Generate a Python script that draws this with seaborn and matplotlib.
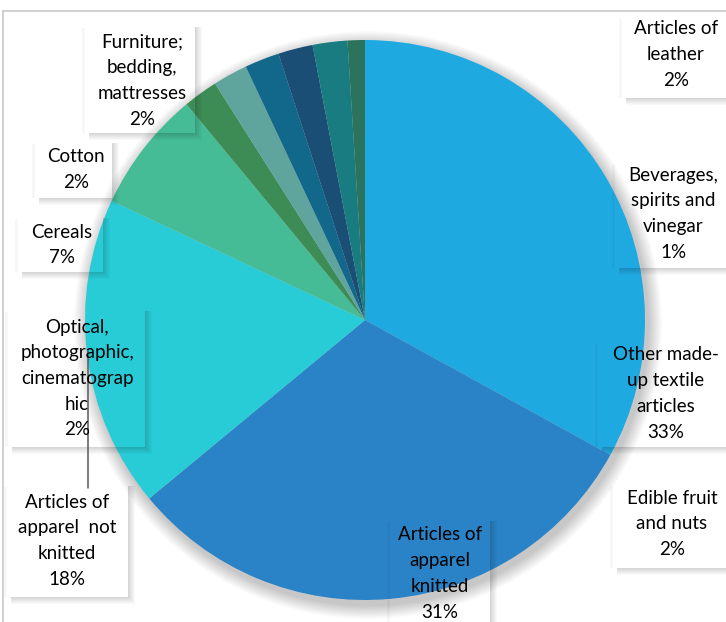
import matplotlib
matplotlib.use("Agg")
import matplotlib.pyplot as plt
import seaborn as sns
from matplotlib.patches import Rectangle, Circle

sns.set_theme(style="white")
plt.rcParams['font.family'] = ['Lato', 'DejaVu Sans']

categories = ["Other made-up textile articles", "Articles of apparel knitted",
              "Articles of apparel  not knitted", "Cereals", "Cotton",
              "Furniture; bedding, mattresses", "Optical, photographic, cinematographic",
              "Edible fruit and nuts", "Articles of leather", "Beverages, spirits and vinegar"]
values = [33, 31, 18, 7, 2, 2, 2, 2, 2, 1]
label_lines = ["Other made-\nup textile\narticles", "Articles of\napparel\nknitted",
               "Articles of\napparel  not\nknitted", "Cereals", "Cotton",
               "Furniture;\nbedding,\nmattresses", "Optical,\nphotographic,\ncinematograp\nhic",
               "Edible fruit\nand nuts", "Articles of\nleather", "Beverages,\nspirits and\nvinegar"]
colors = ["#1FA9E1", "#2A83C6", "#28CCD7", "#45BC95", "#3D8C56",
          "#5FA59E", "#12688B", "#1A4E75", "#187C80", "#2B735C"]

W, H = 726, 622
fig = plt.figure(figsize=(W / 100, H / 100), dpi=100)
ax = fig.add_axes([0, 0, 1, 1])
ax.set_xlim(0, W)
ax.set_ylim(0, H)
ax.set_aspect("equal")
ax.axis("off")

cx, cy, R = 365, H - 320, 280

# soft shadow around the pie
for k in range(14):
    ax.add_patch(Circle((cx + 3, cy - 5), R + 14 - k, color="#000000", alpha=0.014, lw=0, zorder=1))

ax.pie(values, colors=colors, startangle=90, counterclock=False, center=(cx, cy),
       radius=R, wedgeprops=dict(linewidth=0, zorder=2), frame=False)
ax.set_xlim(0, W)
ax.set_ylim(0, H)
ax.axis("off")

# frame lines of the chart area
ax.plot([3, W], [H - 11, H - 11], color="#c8c8c8", lw=1.2, zorder=5)
ax.plot([3, 3], [H - 11, 0], color="#c8c8c8", lw=1.2, zorder=5)

# label boxes: (left, top, right, bottom) in pixels, text centre x, first line y
boxes = {
    "Other made-up textile articles": (598, 340, 726, 447, 666, 355),
    "Articles of apparel knitted": (390, 518, 490, 640, 440, 535),
    "Articles of apparel  not knitted": (7, 483, 128, 597, 67, 502),
    "Cereals": (18, 215, 103, 272, 62, 232),
    "Cotton": (35, 140, 112, 198, 76, 157),
    "Furniture; bedding, mattresses": (85, 24, 195, 133, 142, 42),
    "Optical, photographic, cinematographic": (8, 308, 145, 447, 77, 327),
    "Edible fruit and nuts": (613, 482, 730, 568, 672, 498),
    "Articles of leather": (622, 15, 730, 98, 676, 29),
    "Beverages, spirits and vinegar": (615, 160, 730, 268, 673, 175),
}


def shadow(x0, y0, x1, y1):
    n = 7
    for k in range(n):
        a = 0.16 * (1 - k / n)
        ax.add_patch(Rectangle((x1 + k, H - y1 - k - 1), 1, (y1 - y0) - 2 + k,
                               color="black", alpha=a, lw=0, zorder=6))
        ax.add_patch(Rectangle((x0 + 4, H - y1 - k - 1), (x1 - x0) - 4 + k, 1,
                               color="black", alpha=a, lw=0, zorder=6))
    for k in range(3):
        ax.add_patch(Rectangle((x0 - k - 1, H - y1), 1, (y1 - y0) - 4,
                               color="black", alpha=0.03, lw=0, zorder=6))


# leader line
ax.plot([88, 88], [H - 350, H - 488], color="#595959", lw=1.1, zorder=7)

line_h = 25.7
for cat, val, txt in zip(categories, values, label_lines):
    x0, y0, x1, y1, tx, ty = boxes[cat]
    shadow(x0, y0, x1, y1)
    lines = txt.split("\n") + [f"{val}%"]
    for i, ln in enumerate(lines):
        ax.text(tx, H - (ty + i * line_h), ln, ha="center", va="center",
                fontsize=13.5, color="black", zorder=8)

fig.savefig("out.png", dpi=100)
